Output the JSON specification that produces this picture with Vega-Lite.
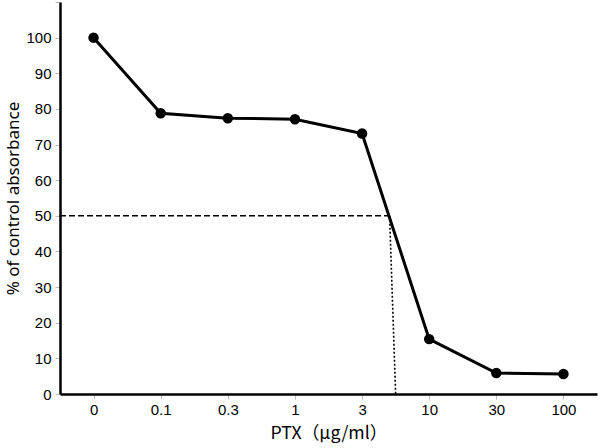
{
  "$schema": "https://vega.github.io/schema/vega-lite/v6.json",
  "width": 537,
  "height": 392,
  "autosize": {"type": "none"},
  "padding": {"left": 60, "top": 2, "right": 3, "bottom": 54},
  "background": "white",
  "config": {"view": {"stroke": null}, "font": "Noto Sans", "axis": {"labelFont": "Liberation Sans", "labelColor": "black"}},
  "datasets": {
    "pts": [
      {"dose": "0", "value": 100},
      {"dose": "0.1", "value": 78.8},
      {"dose": "0.3", "value": 77.4},
      {"dose": "1", "value": 77.1},
      {"dose": "3", "value": 73.1},
      {"dose": "10", "value": 15.4},
      {"dose": "30", "value": 5.9},
      {"dose": "100", "value": 5.6}
    ],
    "hline": [
      {"xi": -0.5, "value": 50},
      {"xi": 4.41, "value": 50}
    ],
    "vline": [
      {"xi": 4.41, "value": 50},
      {"xi": 4.5, "value": 0}
    ]
  },
  "encoding": {
    "y": {
      "field": "value", "type": "quantitative",
      "scale": {"domain": [0, 110], "nice": false},
      "axis": {
        "title": "% of control absorbance", "titleFontSize": 17, "titleFontWeight": "normal", "titleColor": "black", "titlePadding": 3,
        "values": [0, 10, 20, 30, 40, 50, 60, 70, 80, 90, 100, 110],
        "labelExpr": "datum.value > 100 ? '' : datum.label",
        "labelOverlap": false,
        "labelFont": "Liberation Sans", "labelFontSize": 15, "labelColor": "black", "labelPadding": 4,
        "grid": false, "domainColor": "black", "domainWidth": 2.5, "tickColor": "#bbbbbb", "tickSize": 5, "tickWidth": 1
      }
    }
  },
  "layer": [
    {
      "data": {"name": "pts"},
      "mark": {"type": "line", "color": "black", "strokeWidth": 3, "point": {"filled": true, "color": "black", "size": 110}},
      "encoding": {
        "x": {
          "field": "dose", "type": "ordinal", "sort": null,
          "scale": {"type": "point", "padding": 0.5},
          "axis": {
            "title": "PTX（μg/ml）", "titleFont": "Noto Sans CJK JP", "titleFontSize": 17.7, "titleFontWeight": "normal", "titleColor": "black", "titlePadding": 7,
            "labelAngle": 0, "labelFont": "Liberation Sans", "labelFontSize": 15, "labelColor": "black", "labelPadding": 3,
            "domainColor": "black", "domainWidth": 2.5, "tickColor": "#bbbbbb", "tickSize": 5, "tickWidth": 1
          }
        }
      }
    },
    {
      "data": {"name": "hline"},
      "mark": {"type": "line", "color": "black", "strokeWidth": 1.6, "strokeDash": [6, 3]},
      "encoding": {
        "x": {"field": "xi", "type": "quantitative", "scale": {"domain": [-0.5, 7.5], "nice": false, "zero": false}, "axis": null}
      }
    },
    {
      "data": {"name": "vline"},
      "mark": {"type": "line", "color": "black", "strokeWidth": 1.6, "strokeDash": [2, 2]},
      "encoding": {
        "x": {"field": "xi", "type": "quantitative", "scale": {"domain": [-0.5, 7.5], "nice": false, "zero": false}, "axis": null}
      }
    }
  ],
  "resolve": {"scale": {"x": "independent"}}
}
